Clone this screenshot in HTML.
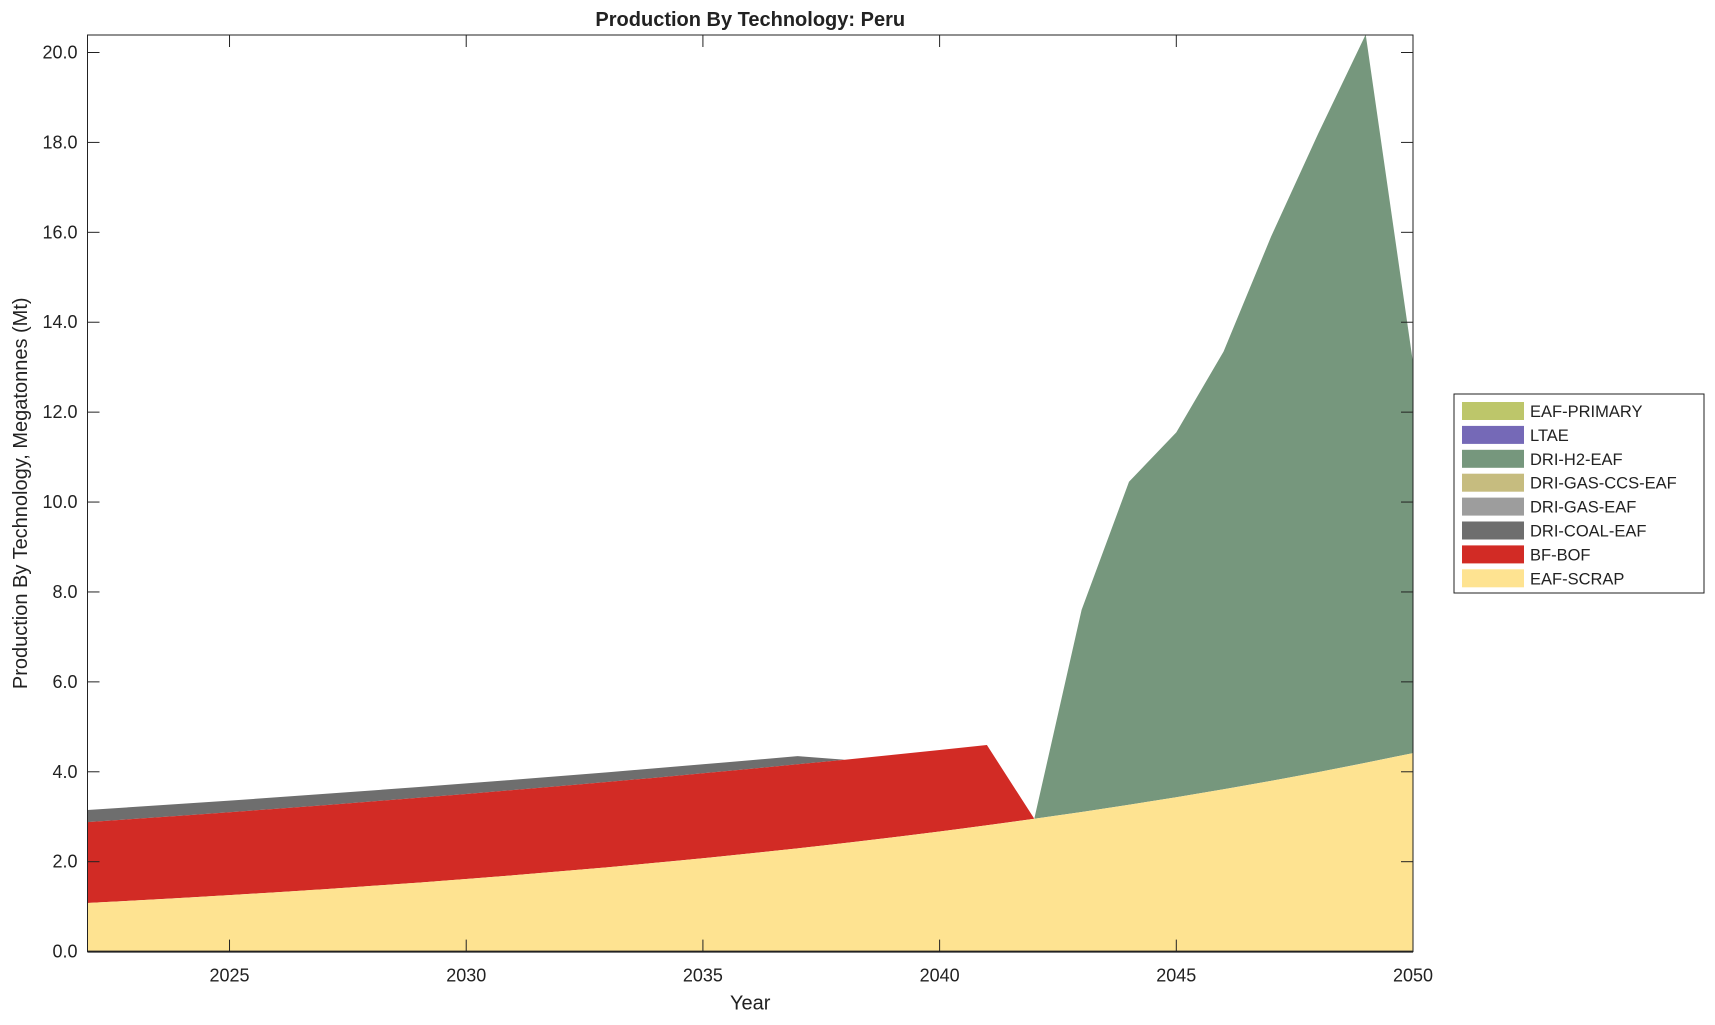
<!DOCTYPE html>
<html><head><meta charset="utf-8"><style>
body{margin:0;background:#fff}
svg text{font-family:"Liberation Sans",Arial,sans-serif;fill:#222}
</style></head><body>
<svg id="s" width="1715" height="1020" xmlns="http://www.w3.org/2000/svg"></svg>
<script>
const L=87.5,R=1413,T=35,B=951.6;
const y0=B, yper=(B-52.5)/20;
const X=yr=>L+(yr-2022)*(R-L)/28;
const Y=v=>y0-v*yper;
const years=[];for(let y=2022;y<=2050;y++)years.push(y);
const scrap=y=>1.08*Math.exp(0.0503*(y-2022));
const bf=y=>2.88*Math.exp(0.0246*(y-2022));
const coal=y=>3.15*Math.exp(0.0215*(y-2022));
let o='<rect width="1715" height="1020" fill="#fff"/>';
function poly(top,bot,col){
  let p=top.map(a=>X(a[0]).toFixed(1)+','+Y(a[1]).toFixed(1));
  p=p.concat(bot.slice().reverse().map(a=>X(a[0]).toFixed(1)+','+Y(a[1]).toFixed(1)));
  o+=`<polygon points="${p.join(' ')}" fill="${col}"/>`;
}
// coal
let ct=[],cb=[];
for(let y=2022;y<=2037;y++){ct.push([y,coal(y)]);cb.push([y,bf(y)]);}
ct.push([2038,bf(2038)]);cb.push([2038,bf(2038)]);
poly(ct,cb,'#6e6e6e');
// bf
let bt=[],bb=[];
for(let y=2022;y<=2041;y++){bt.push([y,bf(y)]);bb.push([y,scrap(y)]);}
bt.push([2042,scrap(2042)]);bb.push([2042,scrap(2042)]);
poly(bt,bb,'#d22b25');
// h2
const h2={2042:scrap(2042),2043:7.6,2044:10.45,2045:11.55,2046:13.35,2047:15.9,2048:18.2,2049:20.4,2050:13.1};
let ht=[],hb=[];
for(let y=2042;y<=2050;y++){ht.push([y,h2[y]]);hb.push([y,scrap(y)]);}
poly(ht,hb,'#76977d');
// scrap
let st=[],sb=[];
for(let y=2022;y<=2050;y+=0.25){st.push([y,scrap(y)]);sb.push([y,0]);}
poly(st,sb,'#fee391');
// axes
o+=`<rect x="${L}" y="${T}" width="${R-L}" height="${B-T}" fill="none" stroke="#222" stroke-width="1"/>`;
o+=`<line x1="${L}" y1="${B}" x2="${R}" y2="${B}" stroke="#222" stroke-width="2"/>`;
for(let v=0;v<=20;v+=2){const y=Y(v);
  o+=`<line x1="${L}" y1="${y}" x2="${L+12}" y2="${y}" stroke="#222"/><line x1="${R-12}" y1="${y}" x2="${R}" y2="${y}" stroke="#222"/>`;
  o+=`<text x="${L-10}" y="${y+6}" font-size="18" text-anchor="end">${v.toFixed(1)}</text>`;}
for(let yr=2025;yr<=2050;yr+=5){const x=X(yr);
  o+=`<line x1="${x}" y1="${B}" x2="${x}" y2="${B-12}" stroke="#222"/><line x1="${x}" y1="${T}" x2="${x}" y2="${T+12}" stroke="#222"/>`;
  o+=`<text x="${x}" y="${B+30}" font-size="18" text-anchor="middle">${yr}</text>`;}
o+=`<text x="${(L+R)/2}" y="${B+58}" font-size="20" text-anchor="middle">Year</text>`;
o+=`<text x="${(L+R)/2}" y="26" font-size="20" font-weight="bold" text-anchor="middle">Production By Technology: Peru</text>`;
o+=`<text transform="translate(27,${(T+B)/2}) rotate(-90)" font-size="20" text-anchor="middle">Production By Technology, Megatonnes (Mt)</text>`;
// legend
o+=`<rect x="1454" y="394" width="250" height="199" fill="#fff" stroke="#222"/>`;
const leg=[['EAF-PRIMARY','#bdc66a'],['LTAE','#7569b7'],['DRI-H2-EAF','#76977d'],['DRI-GAS-CCS-EAF','#c6bc7f'],['DRI-GAS-EAF','#9d9d9d'],['DRI-COAL-EAF','#6e6e6e'],['BF-BOF','#d22b25'],['EAF-SCRAP','#fee391']];
leg.forEach((l,i)=>{const y=402+i*23.9;
  o+=`<rect x="1462" y="${y}" width="62" height="18" fill="${l[1]}"/>`;
  o+=`<text x="1530" y="${y+15}" font-size="16.5">${l[0]}</text>`;});
document.getElementById('s').innerHTML=o;
</script>
</body></html>
